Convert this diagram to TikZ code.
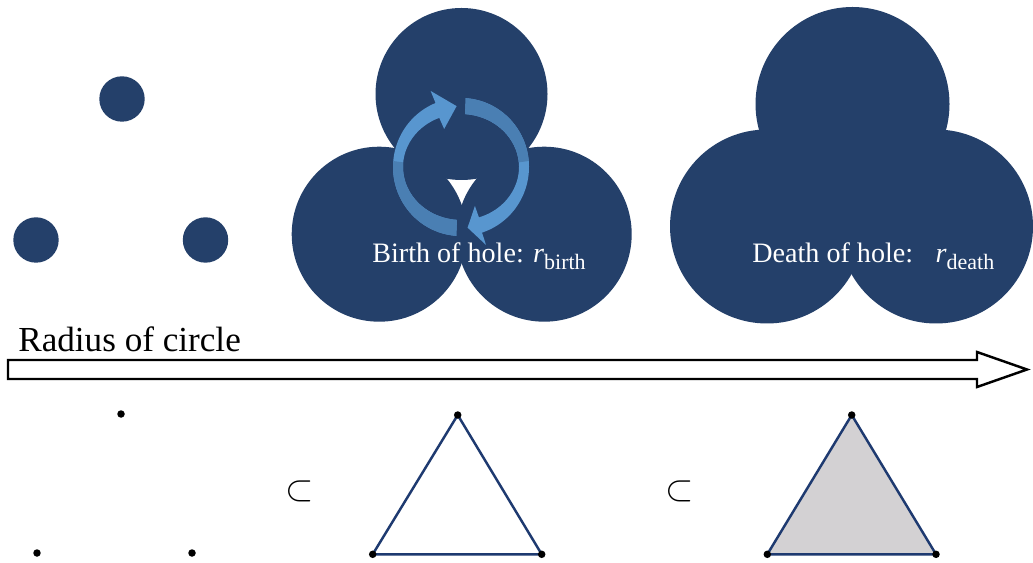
\documentclass[tikz,border=0pt]{standalone}
\usepackage{fontspec}
\setmainfont{Liberation Serif}

\definecolor{ballblue}{RGB}{36,64,106}
\definecolor{ringlight}{RGB}{91,155,213}
\definecolor{ringdark}{RGB}{74,126,178}
\definecolor{edgeblue}{RGB}{30,58,112}
\definecolor{facegray}{RGB}{211,209,211}

\begin{document}
\begin{tikzpicture}[x=0.02cm, y=-0.02cm,
  ball/.style={fill=ballblue},
  vertex/.style={circle, fill=black, inner sep=0pt, minimum size=0.15cm},
  edge/.style={draw=edgeblue, line width=1.4pt, line join=round},
  face/.style={fill=facegray},
  lbl/.style={text=white, inner sep=0pt, anchor=base west, font=\fontsize{16}{19}\selectfont},
  subsetsym/.style={inner sep=0pt, font=\fontsize{22}{24}\selectfont},
  bigarrow/.style={draw=black, fill=white, line width=1.4pt, line join=miter}]

\fill[white] (0,0) rectangle (1033,563);
\useasboundingbox (0,0) rectangle (1033,563);

% three small discs
\fill[ball] (122,99)    circle [radius=22.7];
\fill[ball] (36,240)    circle [radius=22.7];
\fill[ball] (205.5,240) circle [radius=22.7];

% discs at the birth radius
\fill[ball] (461.5,94)    circle [radius=86];
\fill[ball] (379.2,234.2) circle [radius=87.5];
\fill[ball] (544.2,234.2) circle [radius=87.5];

% discs at the death radius
\fill[ball] (852.5,104)  circle [radius=97];
\fill[ball] (767,226.5)  circle [radius=97];
\fill[ball] (936,226.5)  circle [radius=97];

% circular arrows around the hole
\def\cx{461}\def\cy{167}
\begin{scope}[opacity=0.95]
\fill[ringlight]
  plot[domain=94:248, samples=60] ({\cx+68*cos(\x)},{\cy+69*sin(\x)})
  -- ({\cx+81*cos(248)},{\cy+82*sin(248)})
  -- ({\cx+63*cos(266)},{\cy+61*sin(266)})
  -- ({\cx+45*cos(248)},{\cy+41*sin(248)})
  -- plot[domain=248:94, samples=60] ({\cx+58*cos(\x)},{\cy+53*sin(\x)})
  -- cycle;
\fill[ringdark]
  plot[domain=94:185, samples=40] ({\cx+68*cos(\x)},{\cy+69*sin(\x)})
  -- plot[domain=185:94, samples=40] ({\cx+58*cos(\x)},{\cy+53*sin(\x)})
  -- cycle;
\fill[ringlight]
  plot[domain=274:432, samples=60] ({\cx+68*cos(\x)},{\cy+69*sin(\x)})
  -- ({\cx+81*cos(432)},{\cy+82*sin(432)})
  -- ({\cx+63*cos(444)},{\cy+61*sin(444)})
  -- ({\cx+45*cos(432)},{\cy+41*sin(432)})
  -- plot[domain=432:274, samples=60] ({\cx+58*cos(\x)},{\cy+53*sin(\x)})
  -- cycle;
\fill[ringdark]
  plot[domain=274:355, samples=40] ({\cx+68*cos(\x)},{\cy+69*sin(\x)})
  -- plot[domain=355:274, samples=40] ({\cx+58*cos(\x)},{\cy+53*sin(\x)})
  -- cycle;
\end{scope}

% labels on the discs
\node[lbl] (birth) at (372,263)
  {Birth of hole: \textit{r}\raisebox{-0.22em}{\fontsize{12.5}{14}\selectfont birth}};
\node[lbl] (death) at (752,263)
  {Death of hole:\hspace{0.8em}\textit{r}\raisebox{-0.22em}{\fontsize{12.5}{14}\selectfont death}};

% radius axis
\node[anchor=base west, inner sep=0pt, font=\fontsize{20}{24}\selectfont] (radius) at (18,351.7) {Radius of circle};
\draw[bigarrow] (8,360) -- (977,360) -- (977,352) -- (1027,369.5) -- (977,387) -- (977,379) -- (8,379) -- cycle;

% vertex positions of the complexes
\coordinate (a1) at (121,414);
\coordinate (a2) at (37,553);
\coordinate (a3) at (192,553);
\coordinate (b1) at (457.7,415);
\coordinate (b2) at (372.7,554.3);
\coordinate (b3) at (541.7,554.3);
\coordinate (c1) at (851.7,415);
\coordinate (c2) at (767.3,554.3);
\coordinate (c3) at (936,554.3);

% filled 2-simplex and edges
\fill[face] (c1) -- (c2) -- (c3) -- cycle;
\draw[edge] (b1) -- (b2) -- (b3) -- cycle;
\draw[edge] (c1) -- (c2) -- (c3) -- cycle;

% vertices
\foreach \v in {a1,a2,a3,b1,b2,b3,c1,c2,c3}
  \node[vertex] (\v dot) at (\v) {};

% inclusion signs
\node[subsetsym] (incl1) at (300,491.5) {$\subset$};
\node[subsetsym] (incl2) at (680,491.5) {$\subset$};

\end{tikzpicture}
\end{document}
